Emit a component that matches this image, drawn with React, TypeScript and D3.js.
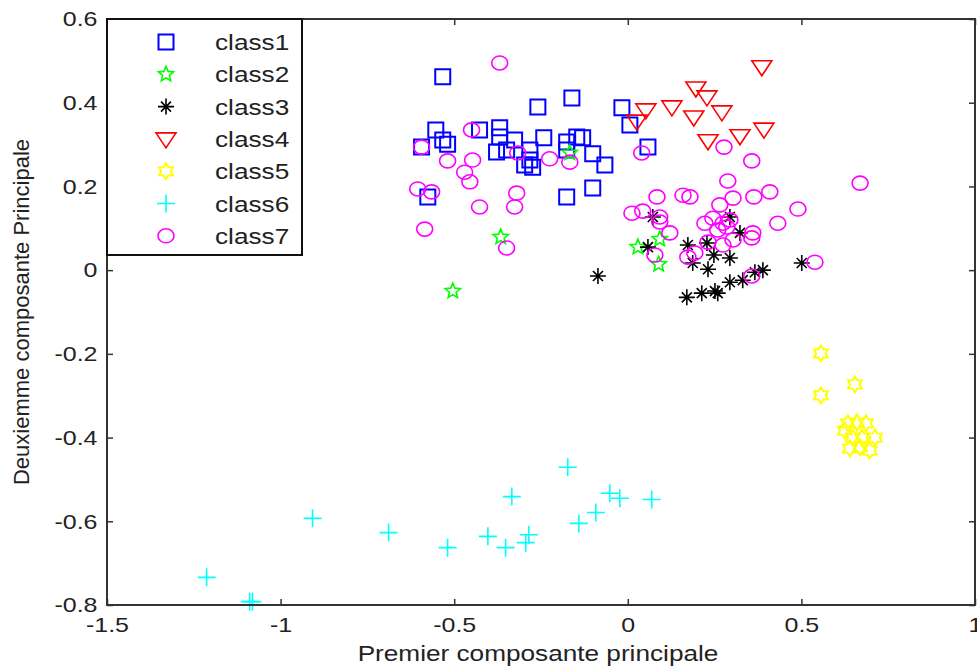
import React, { useRef, useEffect } from "react";
import * as d3 from "d3";

type Pt = [number, number];

const class1: Pt[] = [
  [-0.533, 0.462], [-0.161, 0.411], [-0.259, 0.39], [-0.017, 0.388], [0.006, 0.347],
  [-0.553, 0.335], [-0.427, 0.335], [-0.369, 0.34], [-0.369, 0.318], [-0.533, 0.311],
  [-0.519, 0.301], [-0.594, 0.294], [-0.378, 0.282], [-0.349, 0.287], [-0.326, 0.311],
  [-0.282, 0.287], [-0.242, 0.316], [-0.176, 0.306], [-0.147, 0.318], [-0.13, 0.316],
  [-0.176, 0.287], [-0.101, 0.278], [-0.066, 0.251], [0.058, 0.294], [-0.297, 0.251],
  [-0.282, 0.263], [-0.274, 0.246], [-0.576, 0.175], [-0.176, 0.175], [-0.101, 0.196],
];

const class2: Pt[] = [
  [-0.167, 0.28], [-0.366, 0.079], [-0.504, -0.05], [0.029, 0.055], [0.092, 0.074], [0.089, 0.014],
];

const class3: Pt[] = [
  [-0.086, -0.014], [0.072, 0.127], [0.058, 0.055], [0.173, 0.06], [0.228, 0.065],
  [0.294, 0.127], [0.323, 0.089], [0.248, 0.036], [0.294, 0.029], [0.187, 0.017],
  [0.231, 0.002], [0.366, -0.005], [0.389, 0.0], [0.501, 0.017], [0.294, -0.029],
  [0.331, -0.024], [0.17, -0.065], [0.213, -0.055], [0.251, -0.05], [0.259, -0.055],
];

const class4: Pt[] = [
  [0.386, 0.486], [0.196, 0.435], [0.228, 0.414], [0.052, 0.383], [0.127, 0.39],
  [0.19, 0.366], [0.271, 0.378], [0.026, 0.356], [0.231, 0.309], [0.323, 0.321], [0.392, 0.337],
];

const class5: Pt[] = [
  [0.556, -0.199], [0.654, -0.273], [0.556, -0.299], [0.634, -0.366], [0.66, -0.364],
  [0.686, -0.366], [0.648, -0.4], [0.674, -0.4], [0.712, -0.4], [0.64, -0.426],
  [0.669, -0.423], [0.697, -0.431], [0.625, -0.383],
];

const class6: Pt[] = [
  [-1.213, -0.734], [-1.089, -0.792], [-1.081, -0.792], [-0.908, -0.593], [-0.689, -0.627],
  [-0.519, -0.663], [-0.403, -0.636], [-0.334, -0.541], [-0.352, -0.663], [-0.285, -0.632],
  [-0.294, -0.651], [-0.173, -0.471], [-0.141, -0.605], [-0.092, -0.579], [-0.052, -0.533],
  [-0.023, -0.545], [0.069, -0.548],
];

const class7: Pt[] = [
  [-0.369, 0.495], [-0.45, 0.335], [-0.594, 0.294], [-0.519, 0.261], [-0.447, 0.263],
  [-0.47, 0.234], [-0.455, 0.211], [-0.317, 0.28], [-0.225, 0.266], [-0.167, 0.258],
  [0.04, 0.28], [-0.605, 0.194], [-0.565, 0.187], [-0.32, 0.184], [-0.427, 0.151],
  [-0.326, 0.151], [-0.585, 0.098], [-0.349, 0.053], [0.084, 0.175], [0.277, 0.294],
  [0.357, 0.261], [0.288, 0.213], [0.159, 0.179], [0.179, 0.175], [0.303, 0.172],
  [0.363, 0.175], [0.409, 0.187], [0.669, 0.208], [0.012, 0.136], [0.043, 0.141],
  [0.092, 0.127], [0.092, 0.115], [0.121, 0.089], [0.265, 0.156], [0.222, 0.112],
  [0.245, 0.124], [0.274, 0.112], [0.294, 0.12], [0.259, 0.096], [0.285, 0.103],
  [0.231, 0.067], [0.274, 0.06], [0.303, 0.072], [0.36, 0.089], [0.357, 0.077],
  [0.432, 0.112], [0.49, 0.146], [0.078, 0.036], [0.173, 0.031], [0.193, 0.041],
  [0.357, -0.014], [0.539, 0.019],
];

const classNames = ["class1", "class2", "class3", "class4", "class5", "class6", "class7"];
const xTicks = [-1.5, -1, -0.5, 0, 0.5, 1];
const yTicks = [-0.8, -0.6, -0.4, -0.2, 0, 0.2, 0.4, 0.6];

// star outline with n points
const starPath = (n: number, r: number, ratio: number) => {
  const pts: string[] = [];
  for (let i = 0; i < n * 2; i++) {
    const a = (Math.PI * i) / n - Math.PI / 2;
    const rr = i % 2 === 0 ? r : r * ratio;
    pts.push(`${(rr * Math.cos(a)).toFixed(2)},${(rr * Math.sin(a)).toFixed(2)}`);
  }
  return "M" + pts.join("L") + "Z";
};

const markers = [
  { color: "#0000ff", d: "M-7.5,-7.5H7.5V7.5H-7.5Z", w: 2 },
  { color: "#00ff00", d: starPath(5, 8, 0.45), w: 1.6 },
  { color: "#000000", d: "M-8,0H8M0,-8V8M-5,-5L5,5M-5,5L5,-5", w: 1.6 },
  { color: "#ff0000", d: "M-10,-6L10,-6L0,9Z", w: 1.6 },
  { color: "#ffff00", d: starPath(6, 8, 0.6), w: 2 },
  { color: "#00ffff", d: "M-9,0H9M0,-9V9", w: 1.6 },
  { color: "#ff00ff", d: "M-8,0A8,7 0 1,0 8,0A8,7 0 1,0 -8,0Z", w: 1.6 },
];

const W = 977;
const H = 668;
const margin = { top: 19, right: 2, bottom: 63, left: 107 };
const SX = 1.19; // horizontal stretch of the original text

const App: React.FC = () => {
  const svgRef = useRef<SVGSVGElement | null>(null);

  useEffect(() => {
    if (!svgRef.current) return;
    const svg = d3.select(svgRef.current);
    svg.selectAll("*").remove();

    const x = d3.scaleLinear().domain([-1.5, 1]).range([margin.left, W - margin.right]);
    const y = d3.scaleLinear().domain([-0.8, 0.6]).range([H - margin.bottom, margin.top]);
    const fmt = (v: d3.NumberValue) => String(+(+v).toFixed(1));
    const font = "'Liberation Sans', Arial, sans-serif";
    const axisColor = "#333";

    // data, drawn class by class
    const all = [class1, class2, class3, class4, class5, class6, class7];
    all.forEach((pts, k) => {
      const m = markers[k];
      svg
        .append("g")
        .selectAll("path")
        .data(pts)
        .join("path")
        .attr("transform", (d) => `translate(${x(d[0])},${y(d[1])})`)
        .attr("d", m.d)
        .attr("fill", "none")
        .attr("stroke", m.color)
        .attr("stroke-width", m.w);
    });

    // axes with inward ticks
    const styleAxis = (g: d3.Selection<SVGGElement, unknown, null, undefined>) => {
      g.select(".domain").remove();
      g.selectAll(".tick line").attr("stroke", axisColor).attr("stroke-width", 1.5);
    };

    const bottom = svg
      .append("g")
      .attr("transform", `translate(0,${y(-0.8)})`)
      .call(d3.axisBottom(x).tickValues(xTicks).tickSize(-6).tickFormat(fmt).tickPadding(12));
    styleAxis(bottom);
    bottom
      .selectAll(".tick text")
      .attr("font-family", font)
      .attr("font-size", 21)
      .attr("fill", "#222")
      .attr("transform", `scale(${SX},1)`);

    const top = svg
      .append("g")
      .attr("transform", `translate(0,${y(0.6)})`)
      .call(d3.axisTop(x).tickValues(xTicks).tickSize(-6).tickFormat(() => ""));
    styleAxis(top);

    const left = svg
      .append("g")
      .attr("transform", `translate(${x(-1.5)},0)`)
      .call(d3.axisLeft(y).tickValues(yTicks).tickSize(-6).tickFormat(fmt).tickPadding(8));
    styleAxis(left);
    left
      .selectAll(".tick text")
      .attr("font-family", font)
      .attr("font-size", 21)
      .attr("fill", "#222")
      .attr("transform", `scale(${SX},1)`);

    const right = svg
      .append("g")
      .attr("transform", `translate(${x(1)},0)`)
      .call(d3.axisRight(y).tickValues(yTicks).tickSize(-6).tickFormat(() => ""));
    styleAxis(right);

    // box
    svg
      .append("rect")
      .attr("x", x(-1.5))
      .attr("y", y(0.6))
      .attr("width", x(1) - x(-1.5))
      .attr("height", y(-0.8) - y(0.6))
      .attr("fill", "none")
      .attr("stroke", axisColor)
      .attr("stroke-width", 2);

    // axis titles
    svg
      .append("text")
      .attr("transform", `translate(${(x(-1.5) + x(1)) / 2 - 3},${H - 7}) scale(${SX},1)`)
      .attr("text-anchor", "middle")
      .attr("font-family", font)
      .attr("font-size", 22)
      .attr("fill", "#222")
      .text("Premier composante principale");

    svg
      .append("text")
      .attr("transform", `translate(29,${(y(0.6) + y(-0.8)) / 2}) rotate(-90)`)
      .attr("text-anchor", "middle")
      .attr("font-family", font)
      .attr("font-size", 22)
      .attr("fill", "#222")
      .text("Deuxiemme composante Principale");

    // legend
    const lx = x(-1.5);
    const ly = y(0.6);
    const lg = svg.append("g");
    lg.append("rect")
      .attr("x", lx)
      .attr("y", ly)
      .attr("width", 195)
      .attr("height", 236)
      .attr("fill", "#fff")
      .attr("stroke", "#111")
      .attr("stroke-width", 2);
    const rows = lg
      .selectAll("g.row")
      .data(classNames)
      .join("g")
      .attr("class", "row")
      .attr("transform", (_, i) => `translate(${lx},${ly + 23 + i * 32.3})`);
    rows
      .append("path")
      .attr("transform", "translate(59,0)")
      .attr("d", (_, i) => markers[i].d)
      .attr("fill", "none")
      .attr("stroke", (_, i) => markers[i].color)
      .attr("stroke-width", (_, i) => markers[i].w);
    rows
      .append("text")
      .attr("transform", `translate(108,8) scale(${SX},1)`)
      .attr("font-family", font)
      .attr("font-size", 22)
      .attr("fill", "#222")
      .text((d) => d);
  }, []);

  return (
    <svg
      ref={svgRef}
      width={W}
      height={H}
      style={{ position: "absolute", left: 0, top: 0, background: "#fff" }}
    />
  );
};

export default App;
